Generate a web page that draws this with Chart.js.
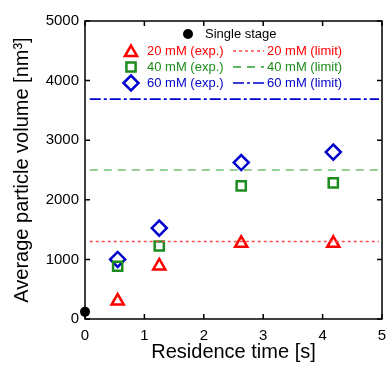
<!DOCTYPE html>
<html>
<head>
<meta charset="utf-8">
<script src="https://cdn.jsdelivr.net/npm/chart.js@4"></script>
<style>
  html, body { margin: 0; padding: 0; background: #fff; }
</style>
</head>
<body>
<canvas id="chart" width="392" height="365"></canvas>
<script>
// values
const timeX = [0.55, 1.25, 2.63, 4.18];
const vol20 = [300, 890, 1270, 1270];
const vol40 = [885, 1225, 2235, 2285];
const vol60 = [1000, 1525, 2625, 2800];
const singleX = [0];
const singleY = [120];
const limitX = [0.08, 4.95];
const limit20 = 1300;
const limit40 = 2500;
const limit60 = 3690;
const xTicks = [0, 1, 2, 3, 4, 5];
const yTicks = [0, 1000, 2000, 3000, 4000, 5000];

const RED = '#ff0000';
const GREEN = '#1e8c1e';
const BLUE = '#0000cc';
const FONT = '"Liberation Sans", Arial, sans-serif';

const pts = (xs, ys) => xs.map((x, i) => ({x: x, y: ys[i]}));
const flat = (xs, v) => xs.map(x => ({x: x, y: v}));

// frame with inward ticks on all four sides
const framePlugin = {
  id: 'frame',
  afterDraw(chart) {
    const {ctx, chartArea: a, scales} = chart;
    ctx.save();
    ctx.strokeStyle = '#000';
    ctx.lineWidth = 1.5;
    ctx.strokeRect(a.left, a.top, a.right - a.left, a.bottom - a.top);
    const t = 5;
    ctx.beginPath();
    xTicks.forEach(v => {
      const px = scales.x.getPixelForValue(v);
      ctx.moveTo(px, a.bottom); ctx.lineTo(px, a.bottom - t);
      ctx.moveTo(px, a.top); ctx.lineTo(px, a.top + t);
    });
    yTicks.forEach(v => {
      const py = scales.y.getPixelForValue(v);
      ctx.moveTo(a.left, py); ctx.lineTo(a.left + t, py);
      ctx.moveTo(a.right, py); ctx.lineTo(a.right - t, py);
    });
    ctx.stroke();
    ctx.restore();
  }
};

// legend laid out like the original, inside the plot
const legendPlugin = {
  id: 'legendBox',
  afterDraw(chart) {
    const {ctx, chartArea: a} = chart;
    const L = a.left, T = a.top;
    ctx.save();
    ctx.font = '13px ' + FONT;
    ctx.textBaseline = 'middle';

    // single stage
    ctx.fillStyle = '#000';
    Chart.helpers.drawPoint(ctx, {pointStyle: 'circle', radius: 5, borderWidth: 0}, L + 103, T + 13);
    ctx.fillText('Single stage', L + 120, T + 13);

    const rows = [
      {c: RED, style: 'triangle', r: 7, exp: '20 mM (exp.)', lim: '20 mM (limit)', dash: [3, 3], lc: '#ff4a4a', y: 30},
      {c: GREEN, style: 'rect', r: 6.5, exp: '40 mM (exp.)', lim: '40 mM (limit)', dash: [8, 6], lc: '#2ea02e', y: 46},
      {c: BLUE, style: 'rectRot', r: 7.5, exp: '60 mM (exp.)', lim: '60 mM (limit)', dash: [11, 3, 3, 3], lc: BLUE, y: 62}
    ];
    rows.forEach(row => {
      const y = T + row.y;
      ctx.strokeStyle = row.c;
      ctx.lineWidth = 2.5;
      ctx.fillStyle = 'rgba(0,0,0,0)';
      Chart.helpers.drawPoint(ctx, {pointStyle: row.style, radius: row.r, borderWidth: 2.5}, L + 46, y + (row.style === 'triangle' ? 1.5 : 0));
      ctx.fillStyle = row.c;
      ctx.fillText(row.exp, L + 62, y);
      ctx.beginPath();
      ctx.setLineDash(row.dash);
      ctx.strokeStyle = row.lc;
      ctx.lineWidth = row.c === BLUE ? 1.6 : 1.3;
      ctx.moveTo(L + 148, y);
      ctx.lineTo(L + 179, y);
      ctx.stroke();
      ctx.setLineDash([]);
      ctx.fillText(row.lim, L + 182, y);
    });
    ctx.restore();
  }
};

const limitLine = (v, color, dash, w) => ({
  type: 'line',
  data: flat(limitX, v),
  borderColor: color,
  borderDash: dash,
  borderWidth: w,
  pointRadius: 0,
  fill: false
});

const markers = (label, ys, style, r, color) => ({
  label: label,
  data: pts(timeX, ys),
  pointStyle: style,
  pointRadius: r,
  pointHoverRadius: r,
  borderColor: color,
  backgroundColor: 'rgba(0,0,0,0)',
  borderWidth: 2.5,
  pointBorderWidth: 2.5
});

new Chart(document.getElementById('chart'), {
  type: 'scatter',
  data: {
    datasets: [
      limitLine(limit20, '#ff4a4a', [3, 3], 1.3),
      limitLine(limit40, '#2ea02e', [8, 6], 1.2),
      limitLine(limit60, BLUE, [11, 3, 3, 3], 1.6),
      markers('20 mM (exp.)', vol20, 'triangle', 7, RED),
      markers('40 mM (exp.)', vol40, 'rect', 6.5, GREEN),
      markers('60 mM (exp.)', vol60, 'rectRot', 7.5, BLUE),
      {
        label: 'Single stage',
        data: pts(singleX, singleY),
        pointStyle: 'circle',
        pointRadius: 5,
        backgroundColor: '#000',
        borderColor: '#000',
        borderWidth: 0,
        clip: false
      }
    ]
  },
  options: {
    responsive: false,
    animation: false,
    layout: { padding: { left: 0, right: 6, top: 21, bottom: 0 } },
    plugins: { legend: { display: false }, tooltip: { enabled: false } },
    scales: {
      x: {
        type: 'linear',
        min: 0, max: 5,
        afterBuildTicks: s => { s.ticks = xTicks.map(v => ({value: v})); },
        afterFit: s => { s.height = 46; s.paddingLeft = 0; s.paddingRight = 0; },
        grid: { display: false, drawTicks: false },
        border: { display: false },
        ticks: { color: '#000', font: { family: FONT, size: 15 }, padding: 8, maxRotation: 0, callback: v => String(v) },
        title: { display: true, text: 'Residence time [s]', color: '#000', font: { family: FONT, size: 20 }, padding: { top: 0, bottom: 1 } }
      },
      y: {
        type: 'linear',
        min: 0, max: 5000,
        afterBuildTicks: s => { s.ticks = yTicks.map(v => ({value: v})); },
        afterFit: s => { s.width = 85; s.paddingTop = 0; s.paddingBottom = 0; },
        grid: { display: false, drawTicks: false },
        border: { display: false },
        ticks: { color: '#000', font: { family: FONT, size: 15 }, padding: 6, callback: v => String(v) },
        title: { display: true, text: 'Average particle volume [nm³]', color: '#000', font: { family: FONT, size: 20 }, padding: { top: 10, bottom: 0 } }
      }
    }
  },
  plugins: [framePlugin, legendPlugin]
});
</script>
</body>
</html>
